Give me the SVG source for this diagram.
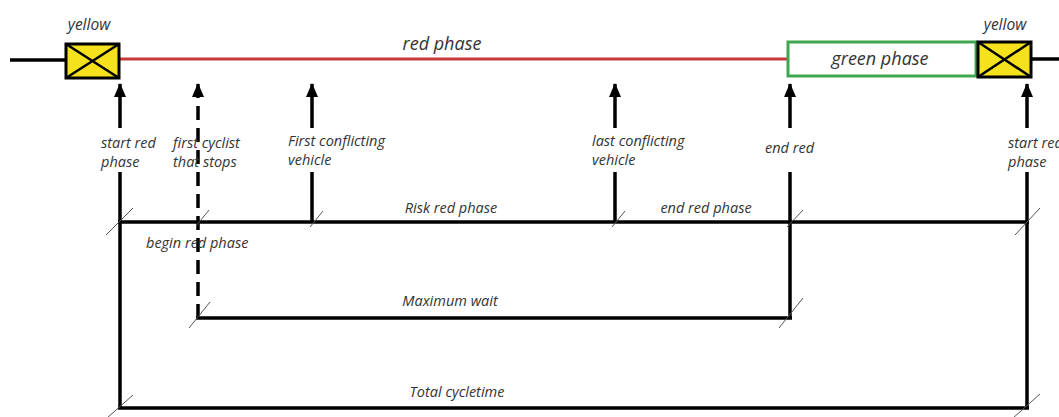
<svg xmlns="http://www.w3.org/2000/svg" width="1059" height="417" viewBox="0 0 1059 417">
<defs>
<style>
text{font-family:"Open Sans","Liberation Sans",sans-serif;font-style:italic;fill:#333;font-size:14.5px}
.big{font-size:15.5px}
.ph{font-size:18px}
.ln{stroke:#000;stroke-width:3.5;fill:none}
.tick{stroke:#555;stroke-width:1;fill:none}
.ah{fill:#000}
</style>
<marker id="arr" viewBox="0 0 14 12" refX="13" refY="6" markerWidth="14" markerHeight="12" markerUnits="userSpaceOnUse" orient="auto">
<path d="M0,0 L14,6 L0,12 Z" class="ah"/>
</marker>
</defs>
<rect width="1059" height="417" fill="#fff"/>
<g id="timeline">
<line x1="10" y1="60" x2="66" y2="60" class="ln"/>
<line x1="120" y1="59" x2="789" y2="59" stroke="#c83a3a" stroke-width="3"/>
<line x1="1032" y1="59" x2="1059" y2="59" class="ln"/>
<text x="442" y="50" text-anchor="middle" class="ph">red phase</text>
</g>
<g id="yellow-left">
<rect x="66" y="44" width="53" height="34" fill="#f5e21c" stroke="#000" stroke-width="3"/>
<path d="M66,44 L119,78 M119,44 L66,78" stroke="#000" stroke-width="2.5"/>
<text x="89" y="30" text-anchor="middle" class="big">yellow</text>
</g>
<g id="green-phase">
<rect x="788" y="42" width="188" height="34" fill="#fff" stroke="#3fa650" stroke-width="3"/>
<text x="880" y="65" text-anchor="middle" class="ph">green phase</text>
</g>
<g id="yellow-right">
<rect x="978" y="42" width="53" height="35" fill="#f5e21c" stroke="#000" stroke-width="3"/>
<path d="M978,42 L1031,77 M1031,42 L978,77" stroke="#000" stroke-width="2.5"/>
<text x="1005" y="30" text-anchor="middle" class="big">yellow</text>
</g>
<g id="connectors">
<line x1="120" y1="408" x2="120" y2="172" class="ln"/>
<line x1="120" y1="128" x2="120" y2="84" class="ln" marker-end="url(#arr)"/>
<line x1="198" y1="318" x2="198" y2="84" class="ln" stroke-dasharray="14,8" marker-end="url(#arr)"/>
<line x1="312" y1="222" x2="312" y2="172" class="ln"/>
<line x1="312" y1="128" x2="312" y2="84" class="ln" marker-end="url(#arr)"/>
<line x1="615" y1="222" x2="615" y2="172" class="ln"/>
<line x1="615" y1="128" x2="615" y2="84" class="ln" marker-end="url(#arr)"/>
<line x1="790" y1="318" x2="790" y2="172" class="ln"/>
<line x1="790" y1="128" x2="790" y2="84" class="ln" marker-end="url(#arr)"/>
<line x1="1027" y1="408" x2="1027" y2="172" class="ln"/>
<line x1="1027" y1="128" x2="1027" y2="84" class="ln" marker-end="url(#arr)"/>
<line x1="118" y1="222" x2="1029" y2="222" class="ln"/>
<line x1="196" y1="318" x2="792" y2="318" class="ln"/>
<line x1="118" y1="408" x2="1029" y2="408" class="ln"/>
<path class="tick" d="M106,235 L133,208 M196,226 L209,210 M310,227 L323,211 M612,227 L625,211 M787,227 L803,210 M1015,235 L1040,208 M189,328 L210,302 M779,328 L803,298 M107,418 L133,395 M1013,418 L1040,394"/>
</g>
<g id="labels">
<text x="101" y="148">start red</text>
<text x="101" y="167">phase</text>
<text x="173" y="148">first cyclist</text>
<text x="173" y="167">that stops</text>
<text x="288" y="146">First conflicting</text>
<text x="288" y="165">vehicle</text>
<text x="592" y="146">last conflicting</text>
<text x="592" y="165">vehicle</text>
<text x="765" y="153">end red</text>
<text x="1008" y="148">start red</text>
<text x="1008" y="167">phase</text>
<text x="451" y="213" text-anchor="middle">Risk red phase</text>
<text x="706" y="213" text-anchor="middle">end red phase</text>
<text x="146" y="248">begin red phase</text>
<text x="450" y="306" text-anchor="middle">Maximum wait</text>
<text x="457" y="397" text-anchor="middle">Total cycletime</text>
</g>
</svg>
